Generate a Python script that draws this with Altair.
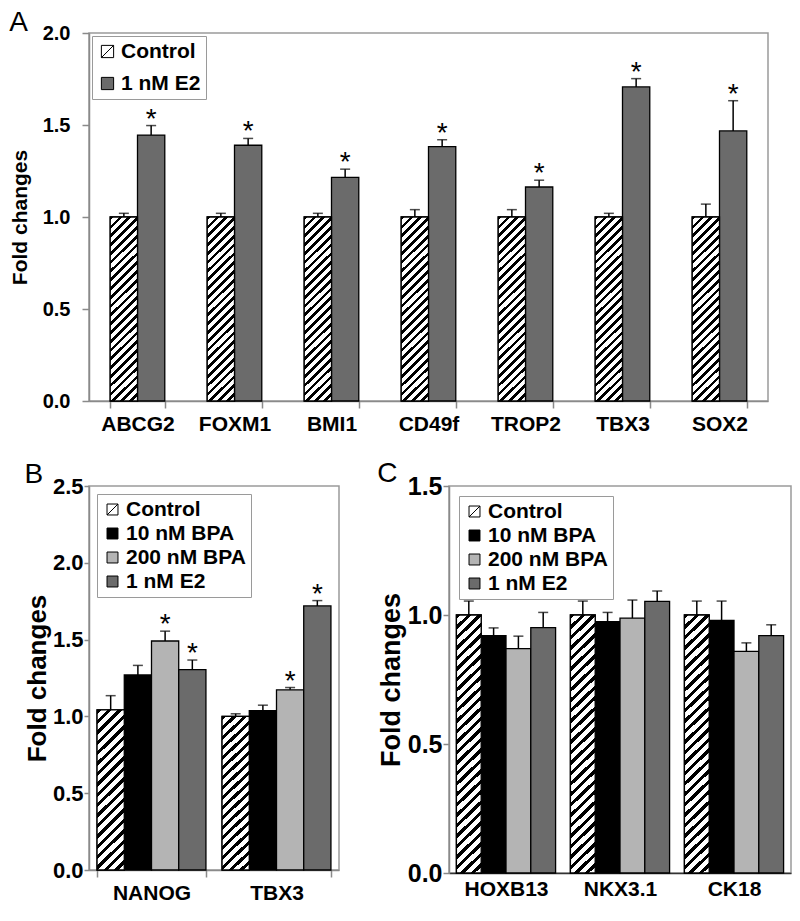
import altair as alt
import pandas as pd
import math

# ---------------- data ----------------
genes_a = ["ABCG2", "FOXM1", "BMI1", "CD49f", "TROP2", "TBX3", "SOX2"]
groups_a = ["Control", "1 nM E2"]
ctrl_a = [1.00, 1.00, 1.00, 1.00, 1.00, 1.00, 1.00]
ctrl_a_err = [0.02, 0.02, 0.02, 0.04, 0.04, 0.02, 0.07]
e2_a = [1.445, 1.39, 1.215, 1.382, 1.163, 1.707, 1.468]
e2_a_err = [0.052, 0.037, 0.045, 0.038, 0.037, 0.045, 0.164]
ctrl_a_sig = [0, 0, 0, 0, 0, 0, 0]
e2_a_sig = [1, 1, 1, 1, 1, 1, 1]

groups_bc = ["Control", "10 nM BPA", "200 nM BPA", "1 nM E2"]

genes_b = ["NANOG", "TBX3"]
ctrl_b = [1.042, 1.00]
ctrl_b_err = [0.093, 0.017]
bpa10_b = [1.27, 1.037]
bpa10_b_err = [0.062, 0.036]
bpa200_b = [1.491, 1.173]
bpa200_b_err = [0.064, 0.015]
e2_b = [1.305, 1.719]
e2_b_err = [0.062, 0.035]
ctrl_b_sig = [0, 0]
bpa10_b_sig = [0, 0]
bpa200_b_sig = [1, 1]
e2_b_sig = [1, 1]

genes_c = ["HOXB13", "NKX3.1", "CK18"]
ctrl_c = [1.00, 1.00, 1.00]
ctrl_c_err = [0.054, 0.054, 0.054]
bpa10_c = [0.92, 0.974, 0.979]
bpa10_c_err = [0.03, 0.036, 0.075]
bpa200_c = [0.87, 0.988, 0.859]
bpa200_c_err = [0.048, 0.07, 0.033]
e2_c = [0.951, 1.053, 0.92]
e2_c_err = [0.059, 0.04, 0.042]
no_sig_c = [0, 0, 0]

yticks_a = [0.0, 0.5, 1.0, 1.5, 2.0]
yticks_b = [0.0, 0.5, 1.0, 1.5, 2.0, 2.5]
yticks_c = [0.0, 0.5, 1.0, 1.5]

FONT = "Liberation Sans"
CTRL_SYMBOL = "M-1,-1H1V1H-1Z M-1,1L1,-1"


def long_df(genes, groups, vals, errs, sigs, gname):
    rows = []
    for gi, g in enumerate(groups):
        for k, gene in enumerate(genes):
            rows.append({"gene": gene, gname: g, "value": vals[gi][k],
                         "err": errs[gi][k], "sig": sigs[gi][k]})
    return pd.DataFrame(rows)


def hatch(w, h, period, frac=0.42):
    s = (w + h) / (w * w + h * h)
    n = max(1, round((w + h) / math.sqrt(2) / period))
    stops = []
    for i in range(n):
        a = i / n
        b = (i + frac) / n
        c = (i + 1) / n
        stops += [alt.GradientStop(color="black", offset=a),
                  alt.GradientStop(color="black", offset=b),
                  alt.GradientStop(color="white", offset=b),
                  alt.GradientStop(color="white", offset=c)]
    return alt.LinearGradient(gradient="linear", stops=stops,
                              x1=0, y1=0, x2=round(s * w, 4), y2=round(s * h, 4))


def panel(df, gname, genes, groups, colors, letter, width, height, ymax, yticks,
          pin, pout, tick_fs, ytitle_fs, xlab_fs, leg_fs, leg_off,
          leg_row_pad, leg_sym, hatch_fill, star_fs,
          ylab_pad, ytitle_pad, ytick, xticks=True, xdomain="#8a8a8a"):
    yaxis = alt.Axis(values=yticks, format=".1f", grid=False,
                     labelFont=FONT, labelFontSize=tick_fs, labelFontWeight="bold",
                     labelColor="black", labelPadding=ylab_pad,
                     title="Fold changes", titleFont=FONT, titleFontSize=ytitle_fs,
                     titleFontWeight="bold", titleColor="black", titlePadding=ytitle_pad,
                     domainColor="#8a8a8a", domainWidth=1.5, tickColor="#8a8a8a",
                     tickWidth=1.5, tickSize=ytick)
    xaxis = alt.Axis(title=None, labelAngle=0, labelFont=FONT, labelFontSize=xlab_fs,
                     labelFontWeight="bold", labelColor="black", labelPadding=5,
                     tickBand="extent", ticks=xticks, tickSize=7, tickWidth=1.5,
                     tickColor="#8a8a8a", domainColor=xdomain, domainWidth=1.5, grid=False)
    x = alt.X("gene:N", sort=genes, axis=xaxis,
              scale=alt.Scale(paddingInner=pin, paddingOuter=pout))
    xo = alt.XOffset(gname + ":N", sort=groups,
                     scale=alt.Scale(domain=groups, paddingInner=0, paddingOuter=0))
    yscale = alt.Scale(domain=[0, ymax], nice=False)

    base = alt.Chart(df).transform_calculate(hi="datum.value + datum.err")

    legend = alt.Legend(title=None, orient="top-left", offset=leg_off,
                        labelFont=FONT, labelFontSize=leg_fs, labelFontWeight="bold",
                        labelColor="black", labelOffset=3,
                        symbolType=alt.ExprRef(
                            expr="datum.value === 'Control' ? '" + CTRL_SYMBOL + "' : 'square'"),
                        symbolSize=leg_sym, symbolStrokeColor="black",
                        symbolStrokeWidth=1, rowPadding=leg_row_pad,
                        padding=5, strokeColor="#9a9a9a", fillColor="white")

    bars = base.mark_bar(stroke="black", strokeWidth=1.3).encode(
        x=x, xOffset=xo,
        y=alt.Y("value:Q", scale=yscale, axis=yaxis),
        fill=alt.Fill(gname + ":N", sort=groups,
                      scale=alt.Scale(domain=groups, range=colors), legend=legend),
    )
    hatched = base.transform_filter("datum." + gname + " === 'Control'").mark_bar(
        fill=hatch_fill, stroke="black", strokeWidth=1.3).encode(
        x=x, xOffset=xo, y=alt.Y("value:Q", scale=yscale, axis=yaxis))
    rule = base.mark_rule(color="black", strokeWidth=1.5).encode(
        x=x, xOffset=xo, y=alt.Y("value:Q", scale=yscale, axis=yaxis), y2="hi:Q")
    cap = base.mark_tick(color="black", thickness=1.5, size=10).encode(
        x=x, xOffset=xo, y=alt.Y("hi:Q", scale=yscale, axis=yaxis))
    star = base.transform_filter("datum.sig == 1").mark_text(
        text="*", font=FONT, fontSize=star_fs, color="black",
        baseline="alphabetic", dy=2).encode(
        x=x, xOffset=xo, y=alt.Y("hi:Q", scale=yscale, axis=yaxis))

    return alt.layer(bars, hatched, rule, cap, star).properties(
        width=width, height=height,
        title=alt.TitleParams(text=letter, anchor="start", font=FONT, fontSize=28,
                              fontWeight="normal", color="black", offset=-14))


df_a = long_df(genes_a, groups_a, [ctrl_a, e2_a], [ctrl_a_err, e2_a_err],
               [ctrl_a_sig, e2_a_sig], "grp_a")
df_b = long_df(genes_b, groups_bc, [ctrl_b, bpa10_b, bpa200_b, e2_b],
               [ctrl_b_err, bpa10_b_err, bpa200_b_err, e2_b_err],
               [ctrl_b_sig, bpa10_b_sig, bpa200_b_sig, e2_b_sig], "grp_b")
df_c = long_df(genes_c, groups_bc, [ctrl_c, bpa10_c, bpa200_c, e2_c],
               [ctrl_c_err, bpa10_c_err, bpa200_c_err, e2_c_err],
               [no_sig_c] * 4, "grp_c")

colors_a = ["white", "#6b6b6b"]
colors_bc = ["white", "black", "#b4b4b4", "#6b6b6b"]

pa = panel(df_a, "grp_a", genes_a, groups_a, colors_a, "A", 679, 368, 2.0, yticks_a,
           0.4375, 0.21875, 20, 21, 21, 21, 3, 10, 150,
           hatch(27, 184, 6.2), 28, 12, 12, 7)
pb = panel(df_b, "grp_b", genes_b, groups_bc, colors_bc, "B", 250, 384, 2.5, yticks_b,
           0.129, 0.0645, 22, 26, 21, 21, 8, 2, 120,
           hatch(27, 160, 7.5), 28, 1, 2, 5)
pc = panel(df_c, "grp_c", genes_c, groups_bc, colors_bc, "C", 342, 387, 1.5, yticks_c,
           0.13, 0.065, 25, 27, 21, 21, 10, 2, 120,
           hatch(24, 258, 7.5), 28, 1, 2, 6, xticks=False, xdomain="#333333")

RES = dict(x="independent", y="independent", xOffset="independent", fill="independent")

chart = alt.vconcat(
    pa,
    alt.hconcat(pb, pc, spacing=36).resolve_scale(**RES).resolve_legend(fill="independent"),
    spacing=24,
).resolve_scale(**RES).resolve_legend(fill="independent").properties(
    padding=0).configure_view(stroke="#9a9a9a", strokeWidth=1.5)

chart.save("out.html", embed_options={"renderer": "svg", "actions": False})
